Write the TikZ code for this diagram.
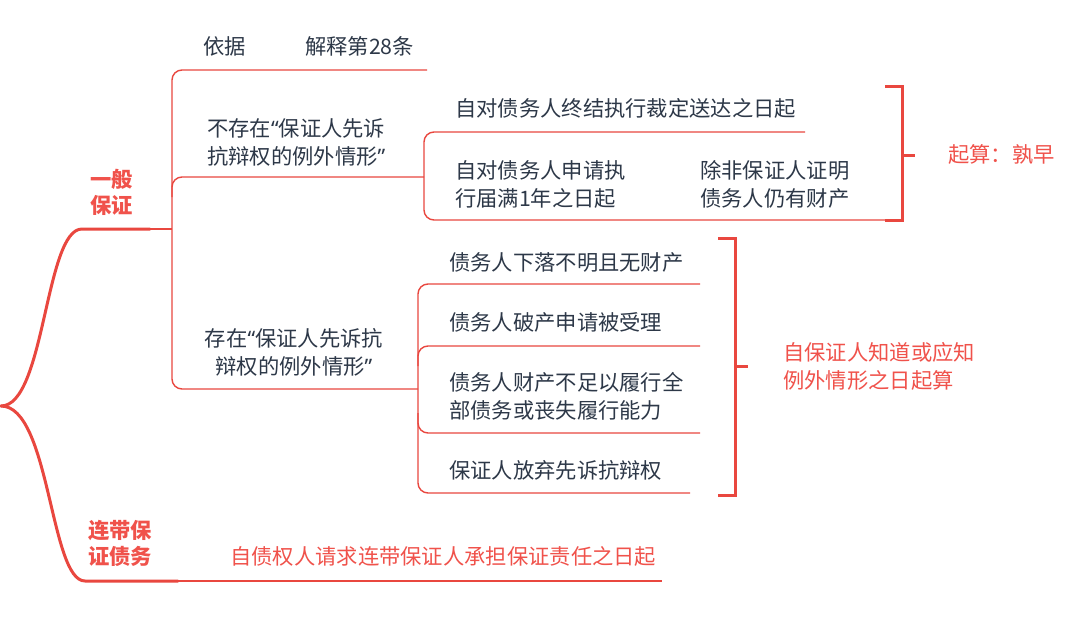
\documentclass[tikz,border=0pt]{standalone}
\usepackage{fontspec}
\setmainfont{Noto Sans CJK SC}
\newfontfamily\latinq{Noto Sans}
\definecolor{lred}{HTML}{E9473F}
\definecolor{tred}{HTML}{F0524B}
\definecolor{ink}{HTML}{2D3848}
\newcommand{\lqm}{{\latinq “}}
\newcommand{\rqm}{{\latinq ”}}
\begin{document}
\begin{tikzpicture}[x=1pt,y=-1pt,
  txt/.style={font=\fontsize{21.3}{28}\selectfont, text=ink, inner sep=0pt, align=left, anchor=west},
  rtxt/.style={txt, text=tred},
  btxt/.style={txt, text=tred, font=\fontsize{21.3}{26}\selectfont\bfseries},
  thinln/.style={draw=lred, line width=1.4pt, rounded corners=10pt},
  thickln/.style={draw=lred, line width=3pt, line cap=round},
  brk/.style={draw=lred, line width=3pt}]
\useasboundingbox[fill=white] (0,0) rectangle (1080,635);

% text nodes
\node[txt] (yiju) at (203,46) {依据};
\node[txt] (jieshi) at (305,46) {解释第28条};
\node[txt] (bucunzai) at (207,142) {不存在\lqm 保证人先诉\\抗辩权的例外情形\rqm};
\node[txt, align=center, anchor=center] (cunzai) at (294,352) {存在\lqm 保证人先诉抗\\辩权的例外情形\rqm};
\node[txt] (zhongjie) at (455,108) {自对债务人终结执行裁定送达之日起};
\node[txt] (shenqing) at (455,184) {自对债务人申请执\\行届满1年之日起};
\node[txt] (chufei) at (700,184) {除非保证人证明\\债务人仍有财产};
\node[rtxt] (qisuan) at (948,155) {起算：孰早};
\node[txt] (c1) at (449,262) {债务人下落不明且无财产};
\node[txt] (c2) at (449,322) {债务人破产申请被受理};
\node[txt] (c3) at (449,396) {债务人财产不足以履行全\\部债务或丧失履行能力};
\node[txt] (c4) at (449,470) {保证人放弃先诉抗辩权};
\node[rtxt] (zhidao) at (783,366) {自保证人知道或应知\\例外情形之日起算};
\node[btxt] (yiban) at (90,192) {一般\\保证};
\node[btxt] (liandai) at (88,543) {连带保\\证债务};
\node[rtxt] (zizhai) at (230,556) {自债权人请求连带保证人承担保证责任之日起};

% coordinates
\coordinate (root) at (1,406);
\coordinate (y1) at (150,229);
\coordinate (y2) at (172,229);
\coordinate (l2) at (178,581);
\coordinate (l3) at (662,581);

% root branches
\draw[thickln] (root) .. controls (45,406) and (45,229) .. (82,229) -- (y1);
\draw[thickln] (root) .. controls (50,406) and (50,581) .. (85,581) -- (l2);
\draw[draw=lred, line width=1.4pt] (y1) -- (y2);
\draw[draw=lred, line width=1.4pt] (l2) -- (l3);

% level 1 tree
\draw[thinln] (427,70) -- (172,70) -- (172,389) -- (418,389);
\draw[thinln] (172,197) |- (424,177);

% 不存在 subtree
\draw[thinln] (805,132) -- (424,132) -- (424,220) -- (897,220);

% 存在 subtree
\draw[thinln] (700,284) -- (418,284) -- (418,493) -- (690,493);
\draw[thinln] (418,366) |- (700,346);
\draw[thinln] (418,413) |- (700,433);

% brackets
\draw[brk] (885,86) -- (902,86) -- (902,220) -- (885,220);
\draw[brk] (902,155) -- (915,155);
\draw[brk] (718,238) -- (735,238) -- (735,495) -- (718,495);
\draw[brk] (735,366) -- (748,366);
\end{tikzpicture}
\end{document}
